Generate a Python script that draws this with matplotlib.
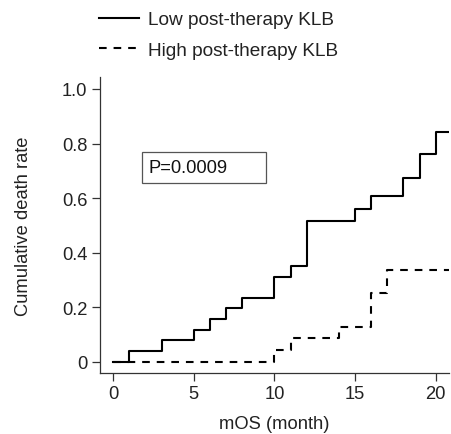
import matplotlib
matplotlib.use("Agg")
import matplotlib.pyplot as plt
from matplotlib.patches import Rectangle

plt.rcParams['font.family'] = ['Liberation Sans', 'DejaVu Sans']
plt.rcParams['lines.scale_dashes'] = False

# Data
low_times = [0, 1, 3, 5, 6, 7, 8, 10, 11, 12, 15, 16, 18, 19, 20, 20.85]
low_rates = [0, 0.039, 0.079, 0.117, 0.156, 0.195, 0.233, 0.311, 0.349, 0.515,
             0.560, 0.607, 0.674, 0.760, 0.843, 0.843]
high_times = [0, 10, 11, 14, 16, 17, 20.85]
high_rates = [0, 0.042, 0.085, 0.126, 0.252, 0.335, 0.335]
x_ticks = [0, 5, 10, 15, 20]
y_ticks = [0, 0.2, 0.4, 0.6, 0.8, 1.0]
y_tick_labels = ["0", "0.2", "0.4", "0.6", "0.8", "1.0"]
series_labels = ["Low post-therapy KLB", "High post-therapy KLB"]
p_text = "P=0.0009"

fs = 13.2
fig = plt.figure(figsize=(4.52, 4.35), dpi=100)
ax = fig.add_axes([100/452, 1 - 374/435, 349/452, 296/435])

l1, = ax.step(low_times, low_rates, where='post', color='black', lw=1.5,
              label=series_labels[0])
l2, = ax.step(high_times, high_rates, where='post', color='black', lw=1.5,
              linestyle=(0, (5.5, 5.0)), label=series_labels[1])

ax.set_xlim(-0.825, 20.83)
ax.set_ylim(-0.042, 1.044)
ax.set_xticks(x_ticks)
ax.set_yticks(y_ticks)
ax.set_yticklabels(y_tick_labels)
for s in ['top', 'right']:
    ax.spines[s].set_visible(False)
for s in ['left', 'bottom']:
    ax.spines[s].set_color('#333333')
    ax.spines[s].set_linewidth(0.9)
ax.tick_params(axis='both', length=6, width=0.9, color='#333333',
               labelsize=fs, labelcolor='#222222', pad=3)

ax.set_xlabel("mOS (month)", fontsize=fs, color='#222222', labelpad=9)
ax.set_ylabel("Cumulative death rate", fontsize=fs, color='#222222', labelpad=22)

ax.add_patch(Rectangle((0.120, 0.642), 0.356, 0.106, transform=ax.transAxes,
                       fc='white', ec='#555555', lw=0.9, zorder=3))
ax.text(0.138, 0.695, p_text, transform=ax.transAxes, fontsize=fs,
        color='#111111', va='center', ha='left', zorder=4)

leg = fig.legend(handles=[l1, l2], loc='upper left',
                 bbox_to_anchor=(99/452, 1 - 12/435), frameon=False,
                 fontsize=13.7, handlelength=2.1, handletextpad=0.5,
                 labelspacing=0.7, borderaxespad=0, borderpad=0)
for t in leg.get_texts():
    t.set_color('#222222')

fig.savefig("out.png", dpi=100)
